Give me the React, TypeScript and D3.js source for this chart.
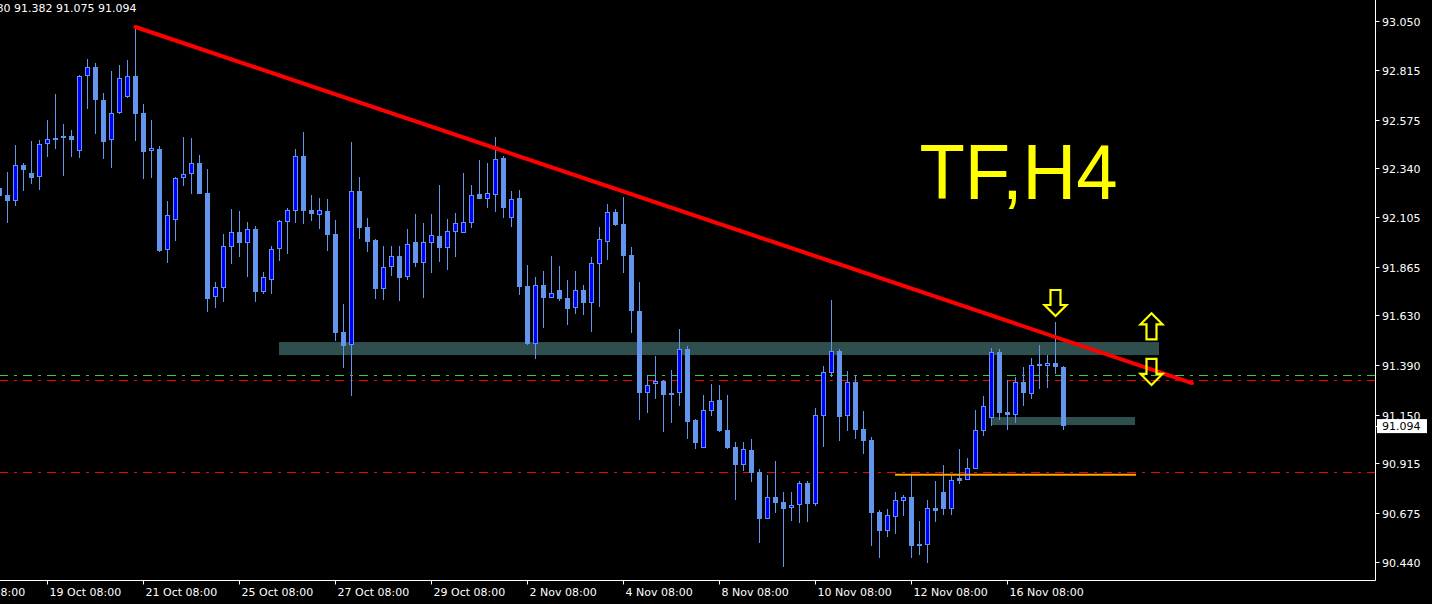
import React from 'react';
import * as d3 from 'd3';

const W = 1432;
const H = 604;
const PLOT_RIGHT = 1375.5;
const PLOT_BOTTOM = 580.5;

// candle index of the first element below (candles are H4 bars, index 0 = first full bar)
const FIRST_INDEX = -1;

const OPEN = [
  92.244, 92.210, 92.183, 92.354, 92.315, 92.296, 92.455, 92.474, 92.484, 92.494,
  92.421, 92.784, 92.827, 92.668, 92.474, 92.605, 92.685, 92.784, 92.605, 92.421,
  92.433, 91.943, 92.088, 92.291, 92.310, 92.363, 92.219, 91.716, 91.760, 91.961,
  92.032, 91.980, 92.046, 91.743, 91.801, 91.948, 92.082, 92.135, 92.399, 92.138,
  92.115, 92.133, 92.022, 91.549, 91.484, 92.230, 92.056, 91.993, 91.756, 91.864,
  91.916, 91.816, 91.983, 91.884, 91.980, 92.012, 91.956, 92.033, 92.028, 92.077,
  92.215, 92.193, 92.212, 92.389, 92.101, 92.196, 91.771, 91.492, 91.776, 91.715,
  91.752, 91.713, 91.666, 91.752, 91.689, 91.879, 91.983, 92.128, 92.070, 91.921,
  91.650, 91.254, 91.299, 91.312, 91.254, 91.256, 91.466, 91.123, 90.990, 91.169,
  91.220, 91.075, 90.993, 90.908, 90.979, 90.872, 90.647, 90.752, 90.727, 90.698,
  90.713, 90.819, 90.719, 91.144, 91.352, 91.457, 91.143, 91.307, 91.080, 91.027,
  90.679, 90.589, 90.656, 90.734, 90.752, 90.524, 90.520, 90.698, 90.776, 90.694,
  90.843, 90.834, 90.888, 91.072, 91.135, 91.452, 91.162, 91.149, 91.307, 91.251,
  91.394, 91.384, 91.399, 91.380,
];
const HIGH = [
  92.262, 92.322, 92.450, 92.363, 92.470, 92.476, 92.573, 92.698, 92.553, 92.524,
  92.790, 92.867, 92.848, 92.703, 92.809, 92.838, 92.863, 93.022, 92.650, 92.573,
  92.447, 92.181, 92.299, 92.491, 92.486, 92.402, 92.336, 91.790, 92.020, 92.143,
  92.133, 92.080, 92.061, 91.838, 91.964, 92.090, 92.148, 92.433, 92.515, 92.210,
  92.196, 92.191, 92.090, 91.684, 92.466, 92.297, 92.099, 91.998, 91.964, 91.964,
  91.964, 92.046, 92.119, 92.075, 92.119, 92.259, 92.094, 92.123, 92.317, 92.259,
  92.380, 92.365, 92.491, 92.399, 92.230, 92.235, 91.872, 91.814, 91.843, 91.916,
  91.867, 91.800, 91.843, 91.776, 91.911, 92.056, 92.167, 92.143, 92.201, 91.959,
  91.790, 91.341, 91.433, 91.317, 91.365, 91.563, 91.481, 91.128, 91.244, 91.297,
  91.293, 91.244, 91.017, 91.017, 91.032, 90.887, 90.858, 90.925, 90.776, 90.776,
  90.829, 90.829, 91.181, 91.384, 91.703, 91.466, 91.360, 91.341, 91.167, 91.041,
  90.689, 90.694, 90.776, 90.761, 90.858, 90.636, 90.737, 90.829, 90.906, 90.853,
  90.983, 90.940, 91.172, 91.239, 91.471, 91.466, 91.317, 91.331, 91.380, 91.423,
  91.486, 91.437, 91.597, 91.382,
];
const LOW = [
  92.195, 92.077, 92.159, 92.231, 92.265, 92.236, 92.396, 92.434, 92.304, 92.396,
  92.391, 92.628, 92.507, 92.386, 92.342, 92.600, 92.681, 92.473, 92.288, 92.294,
  91.935, 91.884, 91.990, 92.256, 92.217, 92.215, 91.647, 91.666, 91.695, 91.877,
  91.911, 91.814, 91.694, 91.734, 91.732, 91.892, 91.925, 92.075, 92.070, 92.085,
  92.046, 91.940, 91.505, 91.375, 91.239, 91.998, 91.935, 91.708, 91.703, 91.819,
  91.698, 91.800, 91.863, 91.713, 91.834, 91.887, 91.848, 91.911, 92.026, 92.051,
  92.190, 92.148, 92.128, 92.099, 92.056, 91.727, 91.486, 91.418, 91.568, 91.713,
  91.698, 91.582, 91.636, 91.631, 91.549, 91.669, 91.896, 92.061, 91.834, 91.544,
  91.124, 91.157, 91.225, 91.066, 91.109, 91.191, 91.032, 90.983, 90.988, 91.143,
  91.066, 90.983, 90.737, 90.877, 90.824, 90.529, 90.645, 90.674, 90.413, 90.636,
  90.626, 90.631, 90.708, 90.993, 91.331, 91.022, 91.070, 91.032, 90.959, 90.515,
  90.457, 90.558, 90.573, 90.660, 90.457, 90.471, 90.433, 90.631, 90.665, 90.665,
  90.814, 90.832, 90.886, 91.046, 91.096, 91.123, 91.075, 91.109, 91.191, 91.225,
  91.273, 91.278, 91.346, 91.075,
];
const CLOSE = [
  92.207, 92.183, 92.354, 92.333, 92.294, 92.455, 92.479, 92.484, 92.494, 92.478,
  92.784, 92.827, 92.671, 92.468, 92.605, 92.774, 92.784, 92.603, 92.420, 92.437,
  91.942, 92.112, 92.291, 92.310, 92.363, 92.217, 91.710, 91.764, 91.962, 92.030,
  91.979, 92.046, 91.742, 91.813, 91.948, 92.083, 92.136, 92.399, 92.135, 92.120,
  92.138, 92.017, 91.545, 91.481, 92.228, 92.053, 91.983, 91.756, 91.863, 91.916,
  91.809, 91.974, 91.882, 91.983, 92.017, 91.954, 92.036, 92.075, 92.080, 92.210,
  92.191, 92.220, 92.384, 92.148, 92.191, 91.766, 91.491, 91.774, 91.713, 91.737,
  91.708, 91.661, 91.752, 91.689, 91.882, 91.998, 92.128, 92.066, 91.916, 91.650,
  91.254, 91.293, 91.312, 91.244, 91.244, 91.467, 91.114, 91.012, 91.172, 91.215,
  91.070, 90.988, 90.906, 90.983, 90.867, 90.645, 90.752, 90.723, 90.694, 90.713,
  90.819, 90.718, 91.148, 91.355, 91.457, 91.138, 91.307, 91.075, 91.022, 90.674,
  90.587, 90.665, 90.737, 90.752, 90.515, 90.515, 90.698, 90.684, 90.694, 90.834,
  90.830, 90.892, 91.075, 91.191, 91.452, 91.157, 91.148, 91.307, 91.254, 91.389,
  91.384, 91.399, 91.380, 91.094,
];

const PRICE_TICKS = [93.05, 92.815, 92.575, 92.34, 92.105, 91.865, 91.63, 91.39, 91.15, 90.915, 90.675, 90.44];
const DATE_TICK_INDEX = [-7, 5, 17, 29, 41, 53, 65, 77, 89, 101, 113, 125];
const DATE_TICK_LABELS = [
  '17 Oct 08:00', '19 Oct 08:00', '21 Oct 08:00', '25 Oct 08:00', '27 Oct 08:00', '29 Oct 08:00',
  '2 Nov 08:00', '4 Nov 08:00', '8 Nov 08:00', '10 Nov 08:00', '12 Nov 08:00', '16 Nov 08:00',
];

const HEADER_OHLC = ['91.380', '91.382', '91.075', '91.094'];
const LAST_PRICE = 91.094;
const TITLE = 'TF,H4';

const ASK_LEVEL = 91.339;
const RED_LEVELS = [91.315, 90.871];

// trendline: [index, price] endpoints
const TREND_INDEX = [16, 148.06];
const TREND_PRICE = [93.022, 91.302];

// rectangle zones
const ZONE_INDEX_FROM = [33.94, 123.02];
const ZONE_INDEX_TO = [143.94, 140.94];
const ZONE_PRICE_TOP = [91.5, 91.138];
const ZONE_PRICE_BOTTOM = [91.437, 91.099];

// orange horizontal segment
const ORANGE_INDEX = [110.94, 141.06];
const ORANGE_PRICE = 90.859;

// arrows: candle index, tip price, direction
const ARROW_INDEX = [131, 143, 143];
const ARROW_TIP_PRICE = [91.626, 91.639, 91.293];
const ARROW_DIR = ['down', 'up', 'down'];

const FONT = "'DejaVu Sans', sans-serif";
const WICK = '#6495ed';
const BULL_FILL = '#0000ff';

function arrowPath(cx: number, tip: number, dir: string): string {
  const hw = 11, sw = 5, total = 26, head = 11;
  const s = dir === 'down' ? -1 : 1; // direction from tip to tail
  const pts: [number, number][] = [
    [cx, tip],
    [cx + hw, tip + s * head],
    [cx + sw, tip + s * head],
    [cx + sw, tip + s * total],
    [cx - sw, tip + s * total],
    [cx - sw, tip + s * head],
    [cx - hw, tip + s * head],
  ];
  return 'M' + pts.map((p) => p.join(',')).join('L') + 'Z';
}

export default function App() {
  const x = d3.scaleLinear().domain([0, 1]).range([7.5, 15.5]);
  const y = d3.scaleLinear().domain([90.44, 93.05]).range([561.5, 21.2]);

  const candles = OPEN.map((o, k) => ({
    i: FIRST_INDEX + k,
    o,
    h: HIGH[k],
    l: LOW[k],
    c: CLOSE[k],
  }));

  const line = d3.line<[number, number]>().x((d) => x(d[0])).y((d) => y(d[1]));
  const trend: [number, number][] = [
    [TREND_INDEX[0], TREND_PRICE[0]],
    [TREND_INDEX[1], TREND_PRICE[1]],
  ];

  return (
    <svg
      width={W}
      height={H}
      style={{ position: 'absolute', left: 0, top: 0, background: '#000', display: 'block' }}
    >
      <rect x={0} y={0} width={W} height={H} fill="#000" />
      <defs>
        <clipPath id="plot">
          <rect x={0} y={0} width={PLOT_RIGHT} height={PLOT_BOTTOM} />
        </clipPath>
      </defs>

      <g clipPath="url(#plot)">
        {/* horizontal dash-dot levels */}
        <line
          x1={-1}
          x2={PLOT_RIGHT}
          y1={Math.round(y(ASK_LEVEL)) + 0.5}
          y2={Math.round(y(ASK_LEVEL)) + 0.5}
          stroke="#3cc83c"
          strokeWidth={1}
          strokeDasharray="9,6,3,6"
        />
        {RED_LEVELS.map((p, k) => (
          <line
            key={k}
            x1={-1}
            x2={PLOT_RIGHT}
            y1={Math.round(y(p)) + 0.5}
            y2={Math.round(y(p)) + 0.5}
            stroke="#ff0000"
            strokeWidth={1}
            strokeDasharray="9,6,3,6"
          />
        ))}

        {/* zones */}
        {ZONE_INDEX_FROM.map((f, k) => (
          <rect
            key={k}
            x={x(f)}
            y={y(ZONE_PRICE_TOP[k])}
            width={x(ZONE_INDEX_TO[k]) - x(f)}
            height={y(ZONE_PRICE_BOTTOM[k]) - y(ZONE_PRICE_TOP[k])}
            fill="#2f4f4f"
          />
        ))}

        {/* candles */}
        {candles.map((d) => {
          const cx = x(d.i);
          const yh = Math.round(y(d.h));
          const yl = Math.round(y(d.l));
          const top = Math.round(y(Math.max(d.o, d.c)));
          const bot = Math.round(y(Math.min(d.o, d.c)));
          const bull = d.c > d.o;
          return (
            <g key={d.i}>
              <line x1={cx} x2={cx} y1={yh} y2={Math.max(yl, yh + 1)} stroke={WICK} strokeWidth={1} />
              {bull ? (
                <rect
                  x={cx - 2}
                  y={top + 0.5}
                  width={4}
                  height={Math.max(bot - top - 1, 0.5)}
                  fill={BULL_FILL}
                  stroke={WICK}
                  strokeWidth={1}
                />
              ) : (
                <rect x={cx - 2.5} y={top} width={5} height={Math.max(bot - top, 1)} fill={WICK} />
              )}
            </g>
          );
        })}

        {/* orange segment */}
        <line
          x1={x(ORANGE_INDEX[0])}
          x2={x(ORANGE_INDEX[1])}
          y1={y(ORANGE_PRICE)}
          y2={y(ORANGE_PRICE)}
          stroke="#ffa500"
          strokeWidth={2}
        />

        {/* trendline */}
        <path d={line(trend) || ''} stroke="#ff0000" strokeWidth={4} strokeLinecap="round" fill="none" />

        {/* arrows */}
        {ARROW_INDEX.map((ai, k) => (
          <path
            key={k}
            d={arrowPath(x(ai), y(ARROW_TIP_PRICE[k]), ARROW_DIR[k])}
            fill="none"
            stroke="#ffff00"
            strokeWidth={2.2}
            strokeLinejoin="miter"
          />
        ))}

        {/* title */}
        <text
          x={919.5}
          y={198.5}
          fontFamily="'Liberation Sans', Arial, sans-serif"
          fontSize={78}
          fill="#ffff00"
          textLength={198}
          lengthAdjust="spacingAndGlyphs"
        >
          {TITLE}
        </text>
      </g>

      {/* header */}
      <text x={-28} y={12} fontFamily={FONT} fontSize={11} fill="#fff" style={{ whiteSpace: 'pre' }}>
        {HEADER_OHLC.join(' ')}
      </text>

      {/* axes */}
      <line x1={PLOT_RIGHT} x2={PLOT_RIGHT} y1={0} y2={PLOT_BOTTOM} stroke="#fff" strokeWidth={1} />
      <line x1={0} x2={PLOT_RIGHT} y1={PLOT_BOTTOM} y2={PLOT_BOTTOM} stroke="#fff" strokeWidth={1} />

      {PRICE_TICKS.map((p) => {
        const ty = Math.round(y(p)) + 0.5;
        return (
          <g key={p}>
            <line x1={PLOT_RIGHT} x2={PLOT_RIGHT + 4} y1={ty} y2={ty} stroke="#fff" />
            <text x={1382} y={ty + 4} fontFamily={FONT} fontSize={11} fill="#fff">
              {d3.format('.3f')(p)}
            </text>
          </g>
        );
      })}

      {/* last price box */}
      <line
        x1={PLOT_RIGHT}
        x2={PLOT_RIGHT + 3}
        y1={Math.round(y(LAST_PRICE)) + 0.5}
        y2={Math.round(y(LAST_PRICE)) + 0.5}
        stroke="#fff"
      />
      <rect x={1377} y={y(LAST_PRICE) - 7} width={50} height={14} fill="#fff" />
      <text x={1382} y={y(LAST_PRICE) + 4} fontFamily={FONT} fontSize={11} fill="#000">
        {d3.format('.3f')(LAST_PRICE)}
      </text>

      {DATE_TICK_INDEX.map((di, k) => {
        const tx = x(di);
        return (
          <g key={di}>
            <line x1={tx} x2={tx} y1={PLOT_BOTTOM} y2={PLOT_BOTTOM + 4} stroke="#fff" />
            <text x={tx + 2} y={596} fontFamily={FONT} fontSize={11} fill="#fff">
              {DATE_TICK_LABELS[k]}
            </text>
          </g>
        );
      })}
    </svg>
  );
}
